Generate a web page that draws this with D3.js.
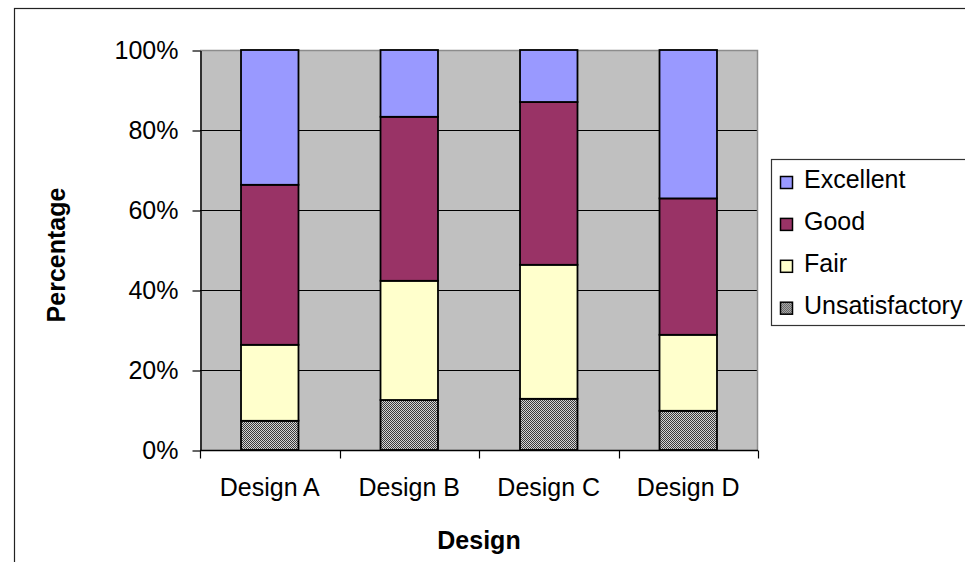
<!DOCTYPE html>
<html>
<head>
<meta charset="utf-8">
<script src="https://cdn.jsdelivr.net/npm/d3@7"></script>
<style>
  html, body { margin: 0; padding: 0; background: #fff; }
  svg { display: block; font-family: "Liberation Sans", Arial, sans-serif; }
</style>
</head>
<body>
<svg id="chart" width="965" height="562"></svg>
<script>
// Survey ratings per design, in percent of responses
const categories = ["Design A", "Design B", "Design C", "Design D"];
const seriesNames = ["Unsatisfactory", "Fair", "Good", "Excellent"];
const unsatisfactory = [7.3, 12.5, 12.8, 9.8];
const fair           = [19.0, 29.8, 33.5, 19.0];
const good           = [40.0, 41.0, 40.7, 34.1];
const excellent      = [33.7, 16.7, 13.0, 37.1];
const yTicks = [0, 20, 40, 60, 80, 100];
const yTickLabels = ["0%", "20%", "40%", "60%", "80%", "100%"];

const seriesValues = [unsatisfactory, fair, good, excellent];
const fills = {
  Unsatisfactory: "url(#checker)",
  Fair: "#FFFFCC",
  Good: "#993366",
  Excellent: "#9999FF"
};

const svg = d3.select("#chart");

// fine checkerboard used for the "Unsatisfactory" series
const defs = svg.append("defs");
const pat = defs.append("pattern")
  .attr("id", "checker").attr("patternUnits", "userSpaceOnUse")
  .attr("width", 2).attr("height", 2);
pat.append("rect").attr("width", 2).attr("height", 2).attr("fill", "#d4d4d4");
pat.append("rect").attr("width", 1).attr("height", 1).attr("fill", "#3a3a3a");
pat.append("rect").attr("x", 1).attr("y", 1).attr("width", 1).attr("height", 1).attr("fill", "#3a3a3a");

// chart frame (runs off the right and bottom edge)
svg.append("rect")
  .attr("x", 14.5).attr("y", 8.5).attr("width", 1000).attr("height", 600)
  .attr("fill", "#fff").attr("stroke", "#222").attr("stroke-width", 1.2);

const plot = { left: 200, top: 50, right: 758, bottom: 450 };

const x = d3.scaleBand()
  .domain(categories)
  .range([plot.left, plot.right])
  .paddingInner(0.588)
  .paddingOuter(0.294);

const y = d3.scaleLinear().domain([0, 100]).range([plot.bottom, plot.top]);

// plot background
svg.append("rect")
  .attr("x", plot.left).attr("y", plot.top)
  .attr("width", plot.right - plot.left).attr("height", plot.bottom - plot.top)
  .attr("fill", "#C0C0C0");

// horizontal gridlines
svg.append("g").selectAll("line")
  .data(yTicks.filter(t => t > 0 && t < 100))
  .join("line")
  .attr("x1", plot.left).attr("x2", plot.right)
  .attr("y1", d => Math.round(y(d)) + 0.5).attr("y2", d => Math.round(y(d)) + 0.5)
  .attr("stroke", "#000").attr("stroke-width", 1);

// plot area border (top and right)
svg.append("path")
  .attr("d", `M${plot.left},${plot.top + 0.5}H${plot.right - 0.5}V${plot.bottom}`)
  .attr("fill", "none").attr("stroke", "#8c8c8c").attr("stroke-width", 1.5);

// stacked bars
const rows = categories.map((c, i) => {
  const r = { category: c };
  seriesNames.forEach((s, k) => { r[s] = seriesValues[k][i]; });
  return r;
});
const stacked = d3.stack().keys(seriesNames)(rows);

svg.append("g").selectAll("g")
  .data(stacked)
  .join("g")
  .attr("fill", d => fills[d.key])
  .selectAll("rect")
  .data(d => d)
  .join("rect")
  .attr("x", d => x(d.data.category))
  .attr("width", x.bandwidth())
  .attr("y", d => y(d[1]))
  .attr("height", d => y(d[0]) - y(d[1]))
  .attr("stroke", "#000")
  .attr("stroke-width", 1.8);

// y axis
const yAxis = d3.axisLeft(y)
  .tickValues(yTicks)
  .tickFormat((d, i) => yTickLabels[i])
  .tickSizeInner(8).tickSizeOuter(0).tickPadding(14);
const gy = svg.append("g").attr("transform", `translate(${plot.left + 0.5},0.5)`).call(yAxis);
gy.select(".domain").attr("stroke", "#000").attr("stroke-width", 1.5);
gy.selectAll(".tick line").attr("stroke", "#000").attr("stroke-width", 1.2);
gy.selectAll("text").attr("font-size", 25).attr("fill", "#000")
  .attr("font-family", "'Liberation Sans', Arial, sans-serif");

// x axis: labels at band centres, tick marks at band boundaries
const xAxis = d3.axisBottom(x).tickSizeInner(0).tickSizeOuter(0).tickPadding(28);
const gx = svg.append("g").attr("transform", `translate(0,${plot.bottom + 0.5})`).call(xAxis);
gx.select(".domain").attr("d", `M${plot.left},0H${plot.right}`)
  .attr("stroke", "#000").attr("stroke-width", 1.5);
gx.selectAll("text").attr("font-size", 25).attr("fill", "#000")
  .attr("font-family", "'Liberation Sans', Arial, sans-serif");
const bounds = d3.range(categories.length + 1).map(i => plot.left + i * x.step());
gx.append("g").selectAll("line")
  .data(bounds)
  .join("line")
  .attr("x1", d => Math.round(d) + 0.5).attr("x2", d => Math.round(d) + 0.5)
  .attr("y1", 0).attr("y2", 8)
  .attr("stroke", "#000").attr("stroke-width", 1.2);

// axis titles
svg.append("text")
  .attr("x", (plot.left + plot.right) / 2).attr("y", 549)
  .attr("text-anchor", "middle")
  .attr("font-size", 25).attr("font-weight", "bold")
  .text("Design");

svg.append("text")
  .attr("transform", "translate(65,255) rotate(-90)")
  .attr("text-anchor", "middle")
  .attr("font-size", 25).attr("font-weight", "bold")
  .text("Percentage");

// legend (top entry = top of stack)
const legend = svg.append("g");
legend.append("rect")
  .attr("x", 771.5).attr("y", 159.5).attr("width", 260).attr("height", 166)
  .attr("fill", "#fff").attr("stroke", "#333").attr("stroke-width", 1.2);
const legendItems = seriesNames.slice().reverse();
const li = legend.selectAll("g.item")
  .data(legendItems)
  .join("g").attr("class", "item")
  .attr("transform", (d, i) => `translate(0,${188 + i * 41.9})`);
li.append("rect")
  .attr("x", 780.5).attr("y", -11.5).attr("width", 12).attr("height", 12)
  .attr("fill", d => fills[d]).attr("stroke", "#000").attr("stroke-width", 1.5);
li.append("text")
  .attr("x", 804).attr("y", 0)
  .attr("font-size", 25).attr("fill", "#000")
  .text(d => d);
</script>
</body>
</html>
